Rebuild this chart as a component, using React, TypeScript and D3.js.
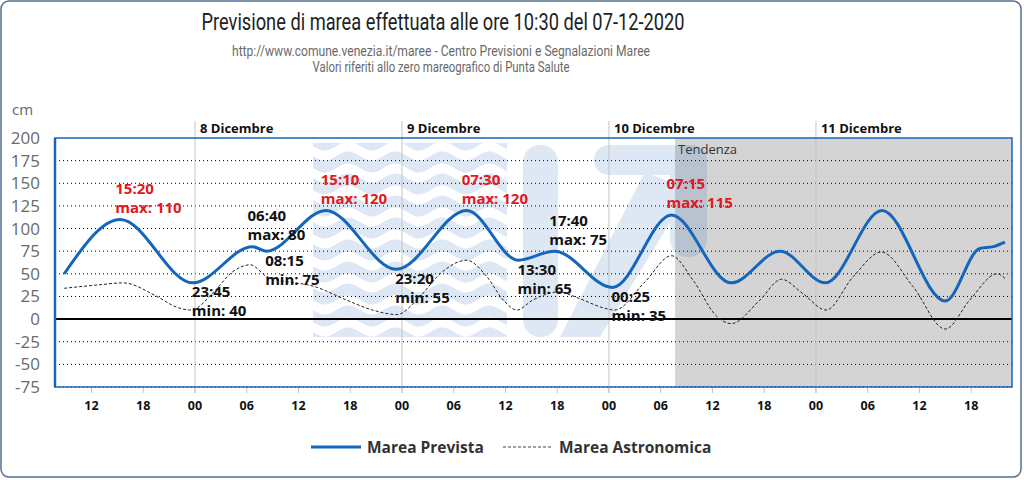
import React from "react";
import * as d3 from "d3";

// ---------- DATA ----------
const previstaTimes = [
  "2020-12-07 08:50", "2020-12-07 15:20", "2020-12-07 23:45", "2020-12-08 06:40",
  "2020-12-08 08:15", "2020-12-08 15:10", "2020-12-08 23:20", "2020-12-09 07:30",
  "2020-12-09 13:30", "2020-12-09 17:40", "2020-12-10 00:25", "2020-12-10 07:15",
  "2020-12-10 14:10", "2020-12-10 19:50", "2020-12-11 01:05", "2020-12-11 07:40",
  "2020-12-11 15:00", "2020-12-11 19:00", "2020-12-11 20:35", "2020-12-11 21:55",
];
const previstaValues = [50, 110, 40, 80, 75, 120, 55, 120, 65, 75, 35, 115, 40, 75, 40, 120, 20, 78, 80, 85];

const astroTimes = [
  "2020-12-07 08:50", "2020-12-07 13:00", "2020-12-07 15:40", "2020-12-07 19:35",
  "2020-12-07 21:55", "2020-12-07 23:35", "2020-12-08 02:05", "2020-12-08 04:20",
  "2020-12-08 06:25", "2020-12-08 08:20", "2020-12-08 14:10", "2020-12-08 17:35",
  "2020-12-08 20:35", "2020-12-08 23:25", "2020-12-09 02:05", "2020-12-09 04:25",
  "2020-12-09 07:30", "2020-12-09 09:50", "2020-12-09 11:45", "2020-12-09 13:20",
  "2020-12-09 15:10", "2020-12-09 18:10", "2020-12-09 20:30", "2020-12-09 23:30",
  "2020-12-10 00:40", "2020-12-10 04:10", "2020-12-10 07:15", "2020-12-10 09:45",
  "2020-12-10 12:30", "2020-12-10 14:10", "2020-12-10 17:30", "2020-12-10 20:00",
  "2020-12-10 22:30", "2020-12-11 01:10", "2020-12-11 04:20", "2020-12-11 07:35",
  "2020-12-11 11:15", "2020-12-11 15:00", "2020-12-11 17:50", "2020-12-11 21:00",
  "2020-12-11 21:55",
];
const astroValues = [
  34, 38, 40, 25, 13, 10, 29, 52, 60, 47, 35, 21, 10, 5, 25, 50, 65, 47, 21, 10,
  21, 30, 23, 12, 10, 41, 70, 43, 3, -5, 21, 44, 28, 10, 47, 74, 36, -11, 21, 50, 45,
];

const extremaTimes = [
  "2020-12-07 15:20", "2020-12-07 23:45", "2020-12-08 06:40", "2020-12-08 08:15",
  "2020-12-08 15:10", "2020-12-08 23:20", "2020-12-09 07:30", "2020-12-09 13:30",
  "2020-12-09 17:40", "2020-12-10 00:25", "2020-12-10 07:15",
];
const extremaKinds = ["max", "min", "max", "min", "max", "min", "max", "min", "max", "min", "max"];
const extremaValues = [110, 40, 80, 75, 120, 55, 120, 65, 75, 35, 115];

const dayLabels = ["8 Dicembre", "9 Dicembre", "10 Dicembre", "11 Dicembre"];
const dayStarts = ["2020-12-08 00:00", "2020-12-09 00:00", "2020-12-10 00:00", "2020-12-11 00:00"];
const yTicks = [200, 175, 150, 125, 100, 75, 50, 25, 0, -25, -50, -75];
const tendenzaStart = "2020-12-10 07:40";
const domainStart = "2020-12-07 07:46";
const domainEnd = "2020-12-11 22:44";

const titleText = "Previsione di marea effettuata alle ore 10:30 del 07-12-2020";
const subtitle1 = "http://www.comune.venezia.it/maree - Centro Previsioni e Segnalazioni Maree";
const subtitle2 = "Valori riferiti allo zero mareografico di Punta Salute";
const legendLabels = ["Marea Prevista", "Marea Astronomica"];

// ---------- LAYOUT ----------
const W = 1024, H = 480;
const L = 55, R = 1012, T = 138, B = 387;
const FONT = "'Open Sans', Roboto, sans-serif";
const BLUE = "#1466bd";
const RED = "#dd1a1e";

const parse = d3.timeParse("%Y-%m-%d %H:%M");
const fmtHM = d3.timeFormat("%H:%M");

export default function App() {
  const x = d3.scaleTime().domain([parse(domainStart)!, parse(domainEnd)!]).range([L, R]);
  const y = d3.scaleLinear().domain([-75, 200]).range([B, T]);

  const prev = previstaTimes.map((t, i) => ({ t: parse(t)!, v: previstaValues[i] }));
  const astro = astroTimes.map((t, i) => ({ t: parse(t)!, v: astroValues[i] }));
  const line = d3
    .line<{ t: Date; v: number }>()
    .x((d) => x(d.t))
    .y((d) => y(d.v))
    .curve(d3.curveMonotoneX);

  const ticks6 = x.ticks(d3.timeHour.every(6)!);
  const fmtH = d3.timeFormat("%H");
  const tx = x(parse(tendenzaStart)!);

  // watermark waves
  const waves: string[] = [];
  for (let k = 0; k < 10; k++) {
    const y0 = 134 + k * 22;
    const top: [number, number][] = [];
    const bot: [number, number][] = [];
    for (let xx = 313; xx <= 508; xx += 2) {
      const s = 4.5 * Math.sin((2 * Math.PI * (xx - 313)) / 47);
      top.push([xx, y0 + s]);
      bot.push([xx, y0 + 12 + s]);
    }
    const pts = top.concat(bot.reverse());
    waves.push("M" + pts.map((p) => p.join(",")).join("L") + "Z");
  }

  return (
    <svg
      width={W}
      height={H}
      style={{ position: "absolute", left: 0, top: 0, background: "#fff" }}
      fontFamily={FONT}
    >
      <defs>
        <clipPath id="wclip">
          <rect x={313} y={143} width={195} height={194} />
        </clipPath>
        <clipPath id="plotclip">
          <rect x={L} y={T} width={R - L} height={B - T + 10} />
        </clipPath>
      </defs>
      <rect x={1} y={1} width={1020} height={476} rx={8} fill="#fff" stroke="#52708f" strokeWidth={1.5} />

      {/* titles */}
      <text x={443} y={30} textAnchor="middle" fontSize={24} fill="#222" fontFamily="Roboto, sans-serif"
        textLength={483} lengthAdjust="spacingAndGlyphs">{titleText}</text>
      <text x={441} y={56} textAnchor="middle" fontSize={15} fill="#6a6a6a" fontFamily="Roboto, sans-serif"
        textLength={418} lengthAdjust="spacingAndGlyphs">{subtitle1}</text>
      <text x={441} y={72} textAnchor="middle" fontSize={15} fill="#6a6a6a" fontFamily="Roboto, sans-serif"
        textLength={257} lengthAdjust="spacingAndGlyphs">{subtitle2}</text>

      {/* tendenza */}
      <rect x={tx} y={T} width={R - tx} height={B - T} fill="#d4d4d4" />
      <text x={tx + 3} y={154} fontSize={13} fill="#333">Tendenza</text>

      {/* watermark */}
      <g opacity={0.14} fill="#1464b4">
        <g clipPath="url(#wclip)">
          {waves.map((d, i) => (
            <path key={i} d={d} />
          ))}
        </g>
        <rect x={523} y={145} width={35} height={192} rx={17} />
        <rect x={594} y={145} width={113} height={30} rx={15} />
        <rect x={670} y={145} width={37} height={112} rx={18} />
        <polygon points="645,172 690,190 600,337 560,337" />
      </g>

      {/* grid */}
      {yTicks.filter((v) => v !== 0 && v !== 200).map((v) => (
        <line key={v} x1={L} x2={R} y1={y(v)} y2={y(v)} stroke="#000" strokeWidth={1}
          strokeDasharray="1,3" />
      ))}
      {/* day lines */}
      {dayStarts.map((d, i) => (
        <g key={d}>
          <line x1={x(parse(d)!)} x2={x(parse(d)!)} y1={121} y2={393} stroke="#c4c4c4" strokeWidth={1} />
          <text x={x(parse(d)!) + 5} y={133} fontSize={13} fontWeight="bold" fill="#111">{dayLabels[i]}</text>
        </g>
      ))}
      {/* x ticks */}
      {ticks6.map((t) => (
        <g key={+t}>
          <line x1={x(t)} x2={x(t)} y1={B} y2={393} stroke="#c4c4c4" />
          <text x={x(t)} y={410} textAnchor="middle" fontSize={12.5} fontWeight="bold" fill="#111">{fmtH(t)}</text>
        </g>
      ))}
      {/* y labels */}
      <text x={12} y={115} fontSize={15} fill="#666">cm</text>
      {yTicks.map((v) => (
        <text key={v} x={40} y={y(v) + 6} textAnchor="end" fontSize={17} fill="#6a6a6a">{v}</text>
      ))}

      {/* zero line */}
      <line x1={L} x2={R} y1={y(0)} y2={y(0)} stroke="#000" strokeWidth={2} />

      {/* plot border */}
      <rect x={L} y={T} width={R - L} height={B - T} fill="none" stroke={BLUE} strokeWidth={1.5} />
      <line x1={L} x2={L} y1={T} y2={B} stroke={BLUE} strokeWidth={2.5} />

      {/* series */}
      <g clipPath="url(#plotclip)">
        <path d={line(astro)!} fill="none" stroke="#222" strokeWidth={1} strokeDasharray="3,2" />
        <path d={line(prev)!} fill="none" stroke={BLUE} strokeWidth={3} />
      </g>

      {/* extrema labels */}
      {extremaTimes.map((t, i) => {
        const d = parse(t)!;
        const px = x(d), py = y(extremaValues[i]);
        const isMax = extremaKinds[i] === "max";
        const color = isMax && extremaValues[i] >= 110 ? RED : "#111";
        const y1 = isMax ? py - 31 : py + 9;
        const y2 = isMax ? py - 12 : py + 28;
        const lx = isMax ? px - 5 : px - 1;
        return (
          <g key={t} fontSize={15} fontWeight="bold" fill={color}>
            <text x={lx} y={y1 + 5.5}>{fmtHM(d)}</text>
            <text x={lx} y={y2 + 5.5}>{`${extremaKinds[i]}: ${extremaValues[i]}`}</text>
          </g>
        );
      })}

      {/* legend */}
      <line x1={311} x2={361} y1={447} y2={447} stroke={BLUE} strokeWidth={3} />
      <text x={367} y={453} fontSize={15.5} fontWeight="bold" fill="#333">{legendLabels[0]}</text>
      <line x1={503} x2={553} y1={447} y2={447} stroke="#444" strokeWidth={1} strokeDasharray="3,2" />
      <text x={559} y={453} fontSize={15.5} fontWeight="bold" fill="#333">{legendLabels[1]}</text>
    </svg>
  );
}
